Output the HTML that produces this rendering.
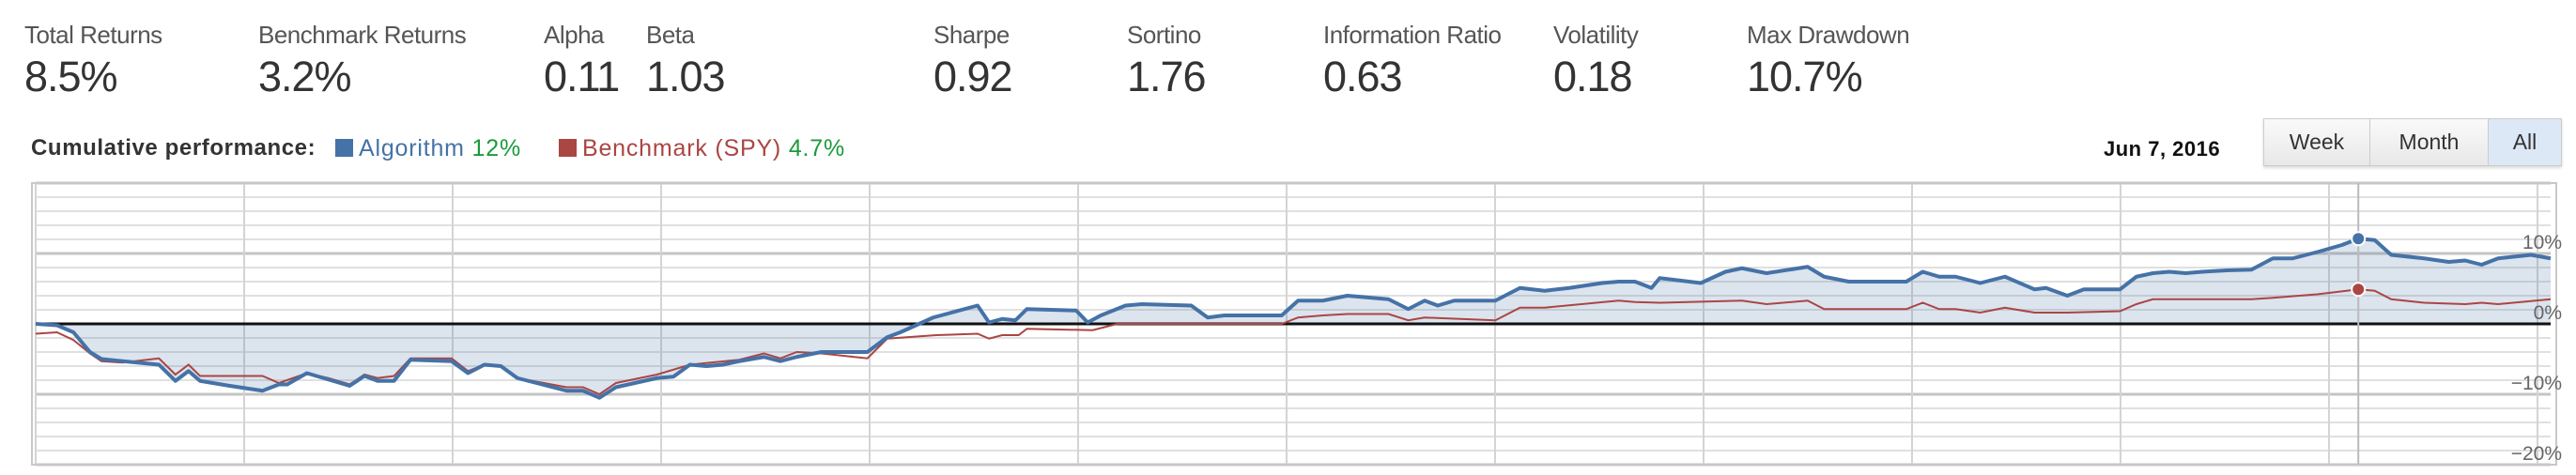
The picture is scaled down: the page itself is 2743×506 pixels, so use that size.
<!DOCTYPE html>
<html><head><meta charset="utf-8"><style>
body{margin:0;width:2743px;height:506px;background:#fff;font-family:"Liberation Sans",sans-serif;position:relative;overflow:hidden}
.stat{position:absolute;top:22px}
.stat .l{font-size:26px;color:#555;letter-spacing:-0.5px}
.stat .v{font-size:45px;color:#333;margin-top:3px;letter-spacing:-1px}
.legend{position:absolute;top:144px;left:33px;font-size:24px;color:#333;font-weight:bold;white-space:nowrap}
.legend .it{font-weight:normal;font-size:25px}
.sq{display:inline-block;width:19px;height:19px;vertical-align:-1px;margin-right:6px}
.btns{position:absolute;left:2410px;top:126px;height:49px;display:flex;border:1px solid #ccc;box-shadow:0 2px 3px rgba(0,0,0,.15)}
.btn{font-size:23px;color:#333;display:flex;align-items:center;justify-content:center;background:linear-gradient(#fafafa,#e8e8e8);border-right:1px solid #ccc}
</style></head><body>
<div class="stat" style="left:26px"><div class="l">Total Returns</div><div class="v">8.5%</div></div>
<div class="stat" style="left:275px"><div class="l">Benchmark Returns</div><div class="v">3.2%</div></div>
<div class="stat" style="left:579px"><div class="l">Alpha</div><div class="v">0.11</div></div>
<div class="stat" style="left:688px"><div class="l">Beta</div><div class="v">1.03</div></div>
<div class="stat" style="left:994px"><div class="l">Sharpe</div><div class="v">0.92</div></div>
<div class="stat" style="left:1200px"><div class="l">Sortino</div><div class="v">1.76</div></div>
<div class="stat" style="left:1409px"><div class="l">Information Ratio</div><div class="v">0.63</div></div>
<div class="stat" style="left:1654px"><div class="l">Volatility</div><div class="v">0.18</div></div>
<div class="stat" style="left:1860px"><div class="l">Max Drawdown</div><div class="v">10.7%</div></div>

<div class="legend"><span style="letter-spacing:0.6px">Cumulative performance:</span>
<span class="it" style="position:absolute;left:324px;top:0;letter-spacing:0.8px"><span class="sq" style="background:#4572a7"></span><span style="color:#4572a7">Algorithm</span> <span style="color:#1a9a3a">12%</span></span>
<span class="it" style="position:absolute;left:562px;top:0;letter-spacing:0.8px"><span class="sq" style="background:#aa4643"></span><span style="color:#aa4643">Benchmark (SPY)</span> <span style="color:#1a9a3a">4.7%</span></span>
</div>
<div style="position:absolute;left:2240px;top:146px;font-size:22px;font-weight:bold;color:#111;letter-spacing:0.5px">Jun 7, 2016</div>
<div class="btns">
<div class="btn" style="width:112px">Week</div>
<div class="btn" style="width:125px">Month</div>
<div class="btn" style="width:77px;background:#dce8f5;border-right:none">All</div>
</div>

<svg id="chart" width="2743" height="506" style="position:absolute;left:0;top:0"></svg>
<script>
const algoDays=[0,13,23,33,40,53,75,85,93,100,118,138,148,153,165,178,191,200,208,218,228,253,263,273,283,293,308,323,333,343,353,378,388,398,408,418,428,443,453,463,478,506,518,526,546,573,580,588,596,603,633,640,648,663,673,703,713,723,758,768,783,798,823,835,845,853,863,888,903,918,933,953,963,973,983,988,1013,1028,1038,1053,1078,1088,1103,1138,1148,1158,1168,1183,1198,1216,1223,1236,1246,1268,1278,1288,1298,1308,1318,1333,1348,1361,1373,1388,1403,1413,1423,1433,1453,1468,1478,1488,1498,1518,1530];
const algoVals=[0,-0.2,-1.2,-4,-5,-5.3,-5.8,-8.1,-6.7,-8.1,-8.8,-9.5,-8.6,-8.6,-7,-7.9,-8.8,-7.4,-8.1,-8.1,-5.1,-5.3,-7,-5.8,-6,-7.7,-8.6,-9.5,-9.5,-10.5,-9,-7.7,-7.5,-5.8,-6,-5.8,-5.3,-4.7,-5.3,-4.7,-4,-4,-1.9,-1.2,0.9,2.6,0.2,0.7,0.5,2.1,1.9,0.2,1.2,2.6,2.8,2.6,0.9,1.2,1.2,3.3,3.3,4,3.5,2.1,3.3,2.6,3.3,3.3,5.1,4.7,5.1,5.8,6,6,5.1,6.5,5.8,7.4,7.9,7.2,8.1,6.7,6,6,7.4,6.7,6.7,5.8,6.7,4.9,5.1,4,4.9,4.9,6.7,7.2,7.4,7.2,7.4,7.6,7.7,9.3,9.3,10.2,11.2,12.1,11.9,9.8,9.3,8.8,9,8.4,9.3,9.8,9.3];
const benchDays=[0,13,23,33,40,53,75,85,93,100,138,148,165,178,191,200,208,218,228,253,263,273,283,293,323,333,343,353,378,398,428,443,453,463,478,506,518,548,573,580,588,598,603,643,658,668,708,758,768,783,798,823,835,845,888,903,918,963,973,988,1038,1053,1078,1088,1138,1148,1158,1168,1183,1198,1216,1236,1268,1278,1288,1318,1348,1361,1388,1413,1423,1433,1453,1478,1488,1498,1530];
const benchVals=[-1.4,-1.2,-2.3,-4.2,-5.3,-5.5,-4.9,-7.2,-5.8,-7.4,-7.4,-8.4,-7,-7.7,-8.6,-7.2,-7.7,-7.4,-4.9,-4.9,-6.7,-5.8,-6,-7.7,-9,-9,-10,-8.4,-7.2,-5.8,-5.1,-4.2,-4.9,-4,-4.2,-4.9,-2.1,-1.6,-1.4,-2.1,-1.6,-1.6,-0.7,-0.9,0,0,0,0,0.9,1.2,1.4,1.4,0.5,0.9,0.5,2.3,2.3,3.3,3.1,3,3.3,2.8,3.3,2.1,2.1,3,2.1,2.1,1.6,2.3,1.6,1.6,1.8,2.8,3.5,3.5,3.5,3.7,4.2,4.9,4.7,3.5,3,2.8,3,2.8,3.5];
const yTicks=[-20,-10,0,10];
const yTickLabels=["−20%","−10%","0%","10%"];
const hoverDay=1413;

const L=38,R=2716,T=195,B=495,YMIN=-20,YMAX=20,DMAX=1530;
const xs=d=>L+(d/DMAX)*(R-L);
const ys=v=>T+(YMAX-v)/(YMAX-YMIN)*(B-T);
const NS="http://www.w3.org/2000/svg";
const svg=document.getElementById('chart');
function mk(tag,attrs){const e=document.createElementNS(NS,tag);for(const k in attrs)e.setAttribute(k,attrs[k]);svg.appendChild(e);return e;}
for(let v=YMIN;v<=YMAX;v+=2){const e=mk('line',{x1:L,x2:R,y1:ys(v),y2:ys(v),stroke:(v%10===0)?'#c4c4c4':'#e0e0e0','stroke-width':(v%10===0)?3:2});

}
for(let i=0;i<=12;i++){const x=L+i*222;const e=mk('line',{x1:x,x2:x,y1:T,y2:B,stroke:'#d4d4d4','stroke-width':2});

}
const bx=mk('rect',{x:L-4,y:T,width:R-L+10,height:B-T,fill:'none',stroke:'#c8c8c8','stroke-width':2});


let ap='M'+xs(algoDays[0])+','+ys(0);
algoDays.forEach((d,i)=>{ap+=' L'+xs(d)+','+ys(algoVals[i]);});
ap+=' L'+xs(algoDays[algoDays.length-1])+','+ys(0)+' Z';
const area=mk('path',{d:ap,fill:'rgba(69,114,167,0.19)'});


const zl=mk('line',{x1:L,x2:R,y1:ys(0),y2:ys(0),stroke:'#111','stroke-width':3});


const ch=mk('line',{x1:xs(hoverDay),x2:xs(hoverDay),y1:T,y2:B,stroke:'#bbb','stroke-width':2});


const bl=mk('polyline',{points:benchDays.map((d,i)=>xs(d)+','+ys(benchVals[i])).join(' '),fill:'none',stroke:'#aa4643','stroke-width':2});


const al=mk('polyline',{points:algoDays.map((d,i)=>xs(d)+','+ys(algoVals[i])).join(' '),fill:'none',stroke:'#4572a7','stroke-width':4,'stroke-linejoin':'round'});


function valAt(ds,vs,d){for(let i=1;i<ds.length;i++){if(ds[i]>=d){const t=(d-ds[i-1])/(ds[i]-ds[i-1]);return vs[i-1]+t*(vs[i]-vs[i-1]);}}return vs[vs.length-1];}
const d1=mk('circle',{cx:xs(hoverDay),cy:ys(valAt(algoDays,algoVals,hoverDay)),r:7,fill:'#4572a7',stroke:'#fff','stroke-width':2});


const d2=mk('circle',{cx:xs(hoverDay),cy:ys(valAt(benchDays,benchVals,hoverDay)),r:7,fill:'#aa4643',stroke:'#fff','stroke-width':2});


yTicks.forEach((v,i)=>{const t=mk('text',{x:2728,y:ys(v)-5,'text-anchor':'end','font-size':21,fill:'#666','font-family':'Liberation Sans, sans-serif'});t.textContent=yTickLabels[i];

});
</script>
</body></html>
